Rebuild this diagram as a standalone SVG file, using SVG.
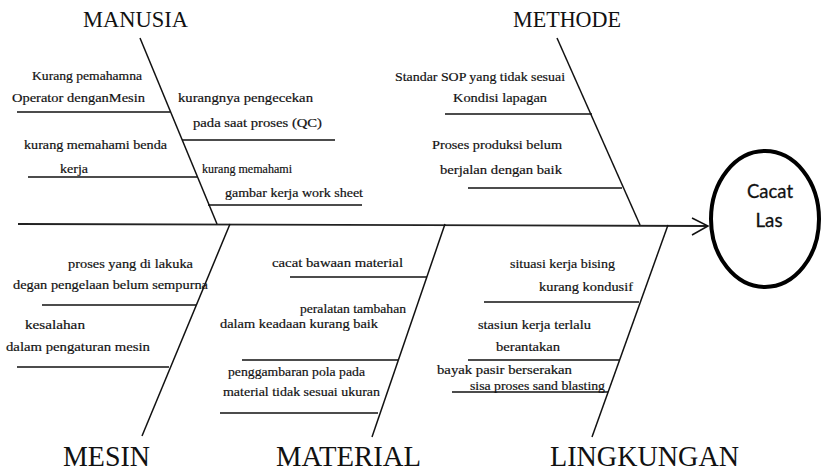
<svg xmlns="http://www.w3.org/2000/svg" width="822" height="472" viewBox="0 0 822 472">
<style>
.ln{stroke:#111;stroke-width:1.5;fill:none}
.sp{stroke:#222;stroke-width:1.8;fill:none}
.t{font-family:"Liberation Serif","Times New Roman",serif;font-size:13.5px;fill:#111;stroke:#111;stroke-width:0.2}
.h{font-family:"Liberation Serif","Times New Roman",serif;font-size:24px;fill:#111}
.hb{font-family:"Liberation Serif","Times New Roman",serif;font-size:29px;fill:#111}
.c{font-family:Lato,"Open Sans",sans-serif;font-size:19px;fill:#111;stroke:#111;stroke-width:0.3}
</style>
<rect width="822" height="472" fill="#fff"/>
<g id="connectors">
<line class="sp" x1="18" y1="224" x2="707" y2="226"/>
<polyline class="ln" points="692,218 708,226 692,235"/>
<line class="ln" x1="140" y1="38" x2="217" y2="224"/>
<line class="ln" x1="17" y1="112" x2="170" y2="112"/>
<line class="ln" x1="28" y1="177" x2="197" y2="177"/>
<line class="ln" x1="182" y1="140" x2="335" y2="140"/>
<line class="ln" x1="208" y1="205" x2="362" y2="205"/>
<line class="ln" x1="557" y1="38" x2="640" y2="225"/>
<line class="ln" x1="445" y1="114" x2="592" y2="114"/>
<line class="ln" x1="468" y1="188" x2="622" y2="188"/>
<line class="ln" x1="230" y1="224" x2="142" y2="436"/>
<line class="ln" x1="42" y1="305" x2="196" y2="305"/>
<line class="ln" x1="17" y1="367" x2="169" y2="367"/>
<line class="ln" x1="445" y1="224" x2="372" y2="437"/>
<line class="ln" x1="290" y1="277" x2="427" y2="277"/>
<line class="ln" x1="242" y1="360" x2="398" y2="360"/>
<line class="ln" x1="220" y1="413" x2="378" y2="413"/>
<line class="ln" x1="668" y1="225" x2="592" y2="437"/>
<line class="ln" x1="484" y1="302" x2="639" y2="302"/>
<line class="ln" x1="468" y1="360" x2="620" y2="360"/>
<line class="ln" x1="452" y1="392" x2="608" y2="392"/>
</g>
<g id="manusia">
<text class="h" x="83" y="27" textLength="105" lengthAdjust="spacingAndGlyphs">MANUSIA</text>
<text class="t" x="32" y="80" textLength="110" lengthAdjust="spacingAndGlyphs">Kurang pemahamna</text>
<text class="t" x="12" y="102" textLength="133" lengthAdjust="spacingAndGlyphs">Operator denganMesin</text>
<text class="t" x="24" y="149" textLength="143" lengthAdjust="spacingAndGlyphs">kurang memahami benda</text>
<text class="t" x="60" y="173" textLength="28" lengthAdjust="spacingAndGlyphs">kerja</text>
<text class="t" x="178" y="102" textLength="135" lengthAdjust="spacingAndGlyphs">kurangnya pengecekan</text>
<text class="t" x="193" y="127" textLength="129" lengthAdjust="spacingAndGlyphs">pada saat proses (QC)</text>
<text class="t" x="202" y="173" textLength="90" lengthAdjust="spacingAndGlyphs">kurang memahami</text>
<text class="t" x="225" y="197" textLength="138" lengthAdjust="spacingAndGlyphs">gambar kerja work sheet</text>
</g>
<g id="methode">
<text class="h" x="513" y="27" textLength="108" lengthAdjust="spacingAndGlyphs">METHODE</text>
<text class="t" x="395" y="81" textLength="170" lengthAdjust="spacingAndGlyphs">Standar SOP yang tidak sesuai</text>
<text class="t" x="453" y="102" textLength="94" lengthAdjust="spacingAndGlyphs">Kondisi lapagan</text>
<text class="t" x="432" y="149" textLength="130" lengthAdjust="spacingAndGlyphs">Proses produksi belum</text>
<text class="t" x="440" y="174" textLength="122" lengthAdjust="spacingAndGlyphs">berjalan dengan baik</text>
</g>
<g id="mesin">
<text class="hb" x="63" y="466" textLength="87" lengthAdjust="spacingAndGlyphs">MESIN</text>
<text class="t" x="68" y="268" textLength="125" lengthAdjust="spacingAndGlyphs">proses yang di lakuka</text>
<text class="t" x="13" y="289" textLength="195" lengthAdjust="spacingAndGlyphs">degan pengelaan belum sempurna</text>
<text class="t" x="25" y="329" textLength="60" lengthAdjust="spacingAndGlyphs">kesalahan</text>
<text class="t" x="6" y="351" textLength="144" lengthAdjust="spacingAndGlyphs">dalam pengaturan  mesin</text>
</g>
<g id="material">
<text class="hb" x="276" y="466" textLength="145" lengthAdjust="spacingAndGlyphs">MATERIAL</text>
<text class="t" x="272" y="267" textLength="131" lengthAdjust="spacingAndGlyphs">cacat bawaan material</text>
<text class="t" x="300" y="313" textLength="106" lengthAdjust="spacingAndGlyphs">peralatan tambahan</text>
<text class="t" x="220" y="328" textLength="158" lengthAdjust="spacingAndGlyphs">dalam keadaan kurang baik</text>
<text class="t" x="228" y="376" textLength="137" lengthAdjust="spacingAndGlyphs">penggambaran pola pada</text>
<text class="t" x="223" y="396" textLength="157" lengthAdjust="spacingAndGlyphs">material tidak sesuai ukuran</text>
</g>
<g id="lingkungan">
<text class="hb" x="550" y="466" textLength="189" lengthAdjust="spacingAndGlyphs">LINGKUNGAN</text>
<text class="t" x="510" y="268" textLength="105" lengthAdjust="spacingAndGlyphs">situasi kerja bising</text>
<text class="t" x="539" y="291" textLength="94" lengthAdjust="spacingAndGlyphs">kurang kondusif</text>
<text class="t" x="478" y="329" textLength="113" lengthAdjust="spacingAndGlyphs">stasiun kerja terlalu</text>
<text class="t" x="496" y="351" textLength="64" lengthAdjust="spacingAndGlyphs">berantakan</text>
<text class="t" x="437" y="374" textLength="135" lengthAdjust="spacingAndGlyphs">bayak pasir berserakan</text>
<text class="t" x="470" y="390" textLength="135" lengthAdjust="spacingAndGlyphs">sisa proses sand blasting</text>
</g>
<g id="cacat-las">
<ellipse cx="765" cy="219" rx="54" ry="68" fill="#fff" stroke="#000" stroke-width="4"/>
<text class="c" x="770" y="198" text-anchor="middle" textLength="46" lengthAdjust="spacingAndGlyphs">Cacat</text>
<text class="c" x="769" y="227" text-anchor="middle" textLength="27" lengthAdjust="spacingAndGlyphs">Las</text>
</g>
</svg>
